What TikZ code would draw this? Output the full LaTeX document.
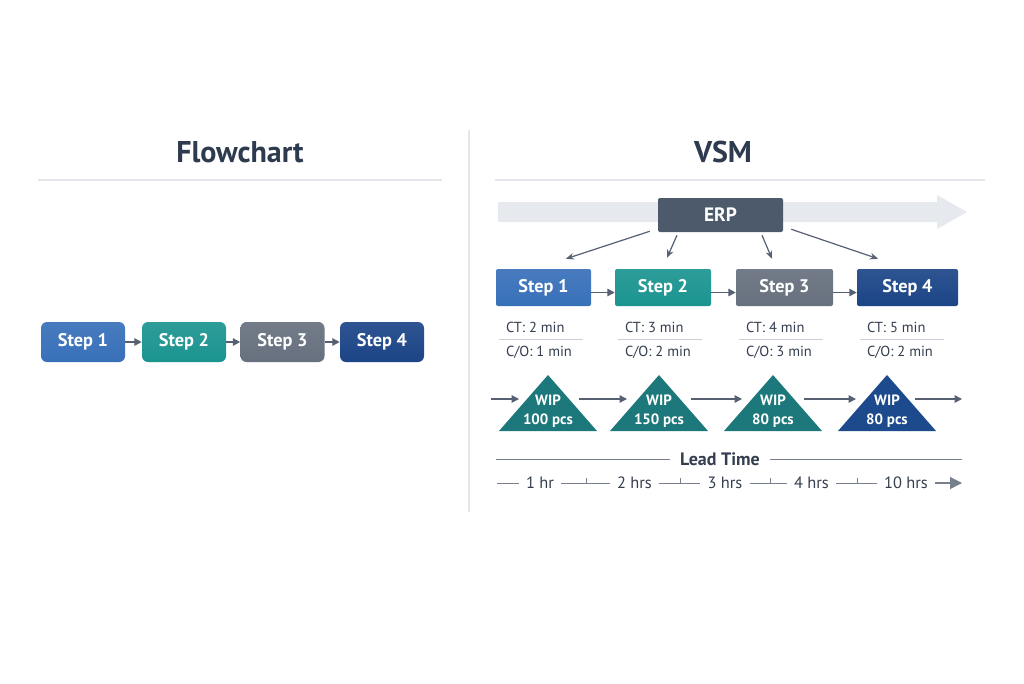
\documentclass[tikz,border=0pt]{standalone}
\usepackage{fontspec}
\setmainfont{PT Sans}
\usetikzlibrary{calc,arrows.meta}
\definecolor{ink}{HTML}{2E3A4E}
\definecolor{txt}{HTML}{343E4F}
\definecolor{rule}{HTML}{E3E6EA}
\definecolor{bgarrow}{HTML}{E6E9EE}
\definecolor{cblue}{HTML}{3870B9}
\definecolor{cteal}{HTML}{1B9490}
\definecolor{cgray}{HTML}{67707E}
\definecolor{cnavy}{HTML}{1C4587}
\definecolor{tteal}{HTML}{1C787A}
\definecolor{tnavy}{HTML}{1D4A8D}
\definecolor{cerp}{HTML}{4D5A6B}
\definecolor{arr}{HTML}{566072}
\definecolor{sepc}{HTML}{C9D0D8}
\begin{document}
\begin{tikzpicture}[x=0.75pt,y=-0.75pt,
  title/.style={text=ink,font=\fontsize{22.5}{25}\selectfont\bfseries,inner sep=0pt},
  flowbox/.style={rounded corners=4.5pt,minimum width=63pt,minimum height=30pt,text=white,font=\fontsize{13.7}{16}\selectfont\bfseries,inner sep=0pt},
  vsmbox/.style={rounded corners=1.5pt,minimum height=27.75pt,text=white,font=\fontsize{13.7}{16}\selectfont\bfseries,inner sep=0pt},
  ctlabel/.style={anchor=west,text=txt,font=\fontsize{10.9}{12}\selectfont,inner sep=0pt},
  wiptext/.style={text=white,font=\fontsize{11.2}{13}\selectfont\bfseries,inner sep=0pt,align=center},
  tl/.style={text=txt,font=\fontsize{12.3}{14}\selectfont,inner sep=0pt},
  conn/.style={draw=arr,line width=1.1pt,-{Triangle[length=5.5pt,width=5.5pt]}},
  erpline/.style={draw=arr,line width=0.9pt,-{Stealth[length=6pt,width=5pt]}},
  sep/.style={draw=sepc,line width=0.8pt},
  tline/.style={draw=arr!80,line width=0.7pt}
]
\useasboundingbox[fill=white] (0,0) rectangle (1024,683);

% dividers and titles
\draw[rule,line width=1pt] (469,130) -- (469,512);
\node[title] (ft) at (240,152) {Flowchart};
\node[title] (vt) at (723,152) {VSM};
\draw[rule,line width=1pt] (38,180) -- (442,180);
\draw[rule,line width=1pt] (495,180) -- (985,180);

% left flowchart
\node[flowbox,top color=cblue!92!white,bottom color=cblue] (f1) at (83,342) {Step 1};
\node[flowbox,top color=cteal!92!white,bottom color=cteal] (f2) at (184,342) {Step 2};
\node[flowbox,top color=cgray!92!white,bottom color=cgray] (f3) at (282.5,342) {Step 3};
\node[flowbox,top color=cnavy!92!white,bottom color=cnavy] (f4) at (382,342) {Step 4};
\draw[conn] (f1) -- (f2);
\draw[conn] (f2) -- (f3);
\draw[conn] (f3) -- (f4);

% big background arrow
\fill[bgarrow] (498,202) -- (937,202) -- (937,195) -- (967,212) -- (937,229) -- (937,222) -- (498,222) -- cycle;

% ERP
\node[fill=cerp,rounded corners=1.5pt,minimum width=93.75pt,minimum height=25.5pt,text=white,font=\fontsize{14.5}{16}\selectfont\bfseries,inner sep=0pt] (erp) at (720.5,215) {ERP};

% VSM steps
\node[vsmbox,top color=cblue!92!white,bottom color=cblue,minimum width=71.25pt] (v1) at (543.5,287.5) {Step 1};
\node[vsmbox,top color=cteal!92!white,bottom color=cteal,minimum width=72pt] (v2) at (663,287.5) {Step 2};
\node[vsmbox,top color=cgray!92!white,bottom color=cgray,minimum width=72.75pt] (v3) at (784.5,287.5) {Step 3};
\node[vsmbox,top color=cnavy!92!white,bottom color=cnavy,minimum width=75.75pt] (v4) at (907.5,287.5) {Step 4};

\draw[erpline] ($(erp.south west)+(-8,-1)$) -- ($(v1.north)+(22.5,-10)$);
\draw[erpline] ($(erp.south)+(-43.5,3)$) -- ($(v2.north)+(4,-11)$);
\draw[erpline] ($(erp.south)+(41.5,3)$) -- ($(v3.north)+(-12.5,-10)$);
\draw[erpline] ($(erp.south east)+(8,-3)$) -- ($(v4.north)+(-29.5,-10)$);

\draw[conn] ($(v1.east)+(0,5)$) -- ($(v2.west)+(0,5)$);
\draw[conn] ($(v2.east)+(0,5)$) -- ($(v3.west)+(0,5)$);
\draw[conn] ($(v3.east)+(0,5)$) -- ($(v4.west)+(0,5)$);

% CT / C/O
\foreach \i/\ct/\co in {1/2/1,2/3/2,3/4/3,4/5/2}{
  \node[ctlabel] (ct\i) at ($(v\i.south west)+(10,21)$) {CT: \ct\ min};
  \node[ctlabel] (co\i) at ($(v\i.south west)+(10,46)$) {C/O: \co\ min};
  \draw[sep] ($(v\i.south west)+(3,33)$) -- ++(84,0);
}

% WIP triangles
\foreach \i/\cx/\col/\n in {1/548/tteal/100,2/659/tteal/150,3/773/tteal/80,4/887/tnavy/80}{
  \fill[\col] (\cx,375) -- (\cx+49,431) -- (\cx-49,431) -- cycle;
  \node[wiptext] (w\i) at (\cx,411.5) {WIP\\[1pt]\n\ pcs};
}
\coordinate (a0s) at (491,399); \coordinate (a0e) at (519,399);
\coordinate (a1s) at (579,399); \coordinate (a1e) at (627,399);
\coordinate (a2s) at (691,399); \coordinate (a2e) at (742,399);
\coordinate (a3s) at (804,399); \coordinate (a3e) at (856,399);
\coordinate (a4s) at (915,399); \coordinate (a4e) at (962,399);
\foreach \i in {0,...,4}{\draw[conn] (a\i s) -- (a\i e);}

% Lead time
\node[text=txt,font=\fontsize{13.5}{15}\selectfont\bfseries,inner sep=0pt] (lt) at (720,459) {Lead Time};
\draw[tline] (496,459) -- ($(lt.west)+(-10,0)$);
\draw[tline] ($(lt.east)+(10,0)$) -- (962,459);

\node[tl] (t1) at (540,483) {1 hr};
\node[tl] (t2) at (634.5,483) {2 hrs};
\node[tl] (t3) at (725,483) {3 hrs};
\node[tl] (t4) at (811.5,483) {4 hrs};
\node[tl] (t5) at (906,483) {10 hrs};
\draw[tline] (497,483) -- ($(t1.west)+(-7,0)$);
\draw[tline] ($(t1.east)+(7,0)$) -- ($(t2.west)+(-7,0)$);
\draw[tline] ($(t2.east)+(7,0)$) -- ($(t3.west)+(-7,0)$);
\draw[tline] ($(t3.east)+(7,0)$) -- ($(t4.west)+(-7,0)$);
\draw[tline] ($(t4.east)+(7,0)$) -- ($(t5.west)+(-7,0)$);
\foreach \x in {586,680,770,857}{\draw[tline] (\x,483) -- (\x,478);}
\draw[tline,line width=0.9pt,-{Triangle[length=9pt,width=9pt]}] ($(t5.east)+(7,0)$) -- (962,483);
\end{tikzpicture}
\end{document}
